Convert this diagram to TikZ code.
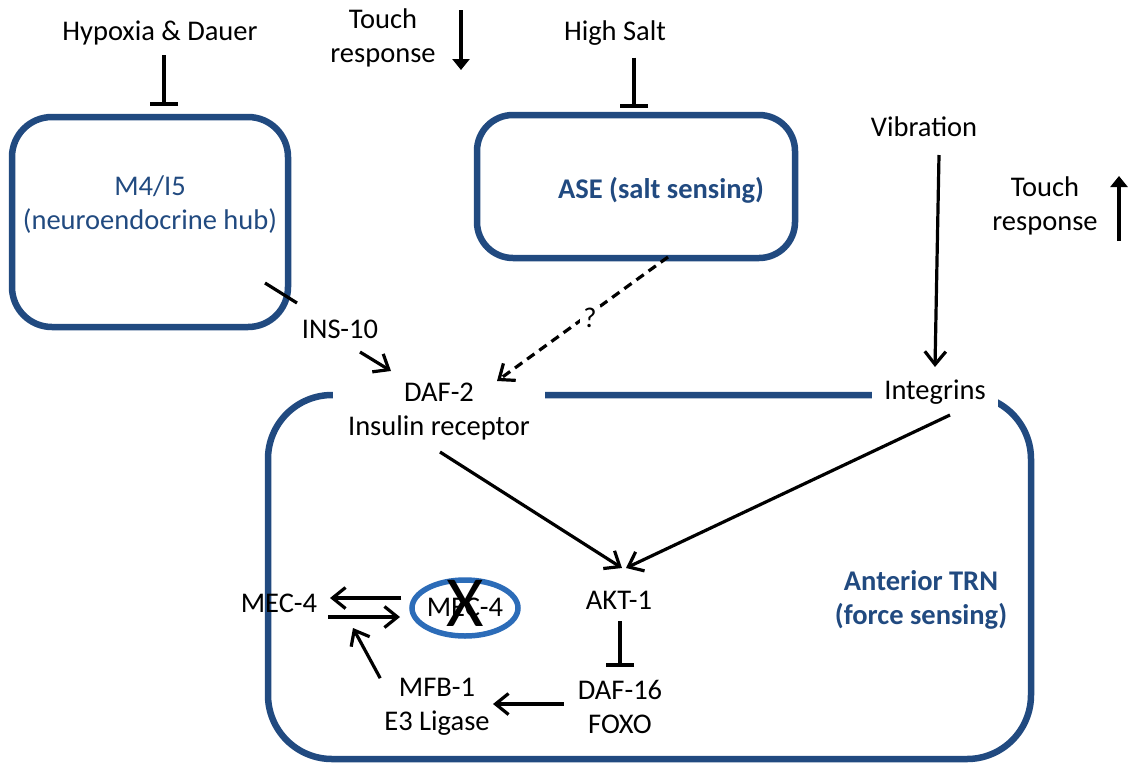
\documentclass[tikz,border=0pt]{standalone}
\usepackage{fontspec}
\setmainfont{Carlito}
\usetikzlibrary{arrows.meta,shapes.geometric}
\definecolor{boxblue}{RGB}{33,74,128}
\definecolor{ringblue}{RGB}{44,108,184}

\begin{document}
\begin{tikzpicture}[x=1pt,y=-1pt,
  txt/.style={font=\fontsize{28.5}{34}\selectfont, align=center, inner sep=0pt},
  bluetxt/.style={txt, text=boxblue},
  boldblue/.style={txt, text=boxblue, font=\fontsize{28.5}{34}\selectfont\bfseries},
  cellbox/.style={draw=boxblue, line width=6.5pt},
  act/.style={line width=3.2pt, -{Straight Barb[length=13pt,width=21pt,line width=3.2pt]}},
  dashact/.style={act, dash pattern=on 9pt off 6pt},
  inh/.style={line width=3.2pt, -{Bar[width=28pt,line width=4pt]}},
  plainline/.style={line width=3.2pt},
  bigarrow/.style={line width=4.2pt, -{Triangle[length=11pt,width=17pt]}}
]
\useasboundingbox (0,0) rectangle (1133,764);

% cell outlines
\draw[cellbox, rounded corners=40pt] (12,117) rectangle (288,327) ;
\node[bluetxt] (m4) at (150,205) {M4/I5\\(neuroendocrine hub)};
\draw[cellbox, rounded corners=36pt] (477,115) rectangle (795,258);
\node[boldblue] (ase) at (661,190) {ASE (salt sensing)};
\draw[cellbox, rounded corners=64pt] (268,395) rectangle (1031,759);

% outside cues
\node[txt] (hyp) at (160,33) {Hypoxia \& Dauer};
\node[txt] (touchdown) at (383,38) {Touch\\response};
\coordinate (tdtop) at (461,10);
\coordinate (tdtip) at (461,70);
\draw[bigarrow] (tdtop) -- (tdtip);
\node[txt] (salt) at (615,33) {High Salt};
\node[txt] (vib) at (924,127) {Vibration};
\node[txt] (touchup) at (1045,206) {Touch\\response};
\coordinate (tubot) at (1119,241);
\coordinate (tutip) at (1119,176);
\draw[bigarrow] (tubot) -- (tutip);

% inhibition onto the sensory cells
\coordinate (hypbar) at (164,106);
\draw[inh] (hyp.south -| hypbar) ++(0,10) -- (hypbar);
\coordinate (saltbar) at (634,108);
\draw[inh] (salt.south -| saltbar) ++(0,12) -- (saltbar);

% receptor level (white fills open gaps in the cell outline)
\node[txt] (ins) at (340,329) {INS-10};
\node[txt, fill=white, inner xsep=0pt, inner ysep=6pt, minimum width=212pt] (daf2) at (439,412) {DAF-2\\Insulin receptor};
\node[txt, fill=white, inner ysep=6pt, minimum width=126pt] (integ) at (935,392) {Integrins};

\coordinate (m4out) at (265,283);
\coordinate (m4tick) at (297,303);
\draw[plainline] (m4out) -- (m4tick);
\coordinate (insA) at (360,352);
\coordinate (insB) at (391,371);
\draw[act] (insA) -- (insB);
\coordinate (aseout) at (668,257);
\coordinate (dafin) at (497,381);
\draw[dashact] (aseout) -- (dafin);
\node[txt, fill=white, inner sep=3pt] (q) at (590,318) {?};
\coordinate (vibA) at (939,155);
\coordinate (vibB) at (935,367);
\draw[act] (vibA) -- (vibB);

% signalling inside the touch receptor neuron
\node[txt] (akt) at (619,600) {AKT-1};
\node[txt] (daf16) at (620,707) {DAF-16\\FOXO};
\node[txt] (mfb) at (437,707) {MFB-1\\E3 Ligase};
\node[txt] (mecL) at (279,603) {MEC-4};
\node[txt] (mecR) at (465,607) {MEC-4};
\node[draw=ringblue, line width=5.5pt, ellipse, minimum width=106pt, minimum height=56pt] (ring) at (465,608) {};
\node[font=\fontsize{72}{72}\selectfont, inner sep=0pt] (xmark) at (465,603) {X};
\node[boldblue] (trn) at (921,600) {Anterior TRN\\(force sensing)};

\coordinate (dafout) at (440,452);
\coordinate (aktin1) at (622,568);
\coordinate (intout) at (950,415);
\coordinate (aktin2) at (626,568);
\draw[act] (dafout) -- (aktin1);
\draw[act] (intout) -- (aktin2);
\coordinate (aktbar) at (620,667);
\draw[inh] (akt.south -| aktbar) ++(0,12) -- (aktbar);
\draw[act] (daf16.west |- 0,704) ++(-14,0) -- (493,704);
\draw[act] (mfb.north west) ++(-4,0) -- (353,628);
\draw[act] (ring.west |- 0,598) ++(-8,0) -- (330,598);
\draw[act] (mecL.east |- 0,617) ++(11,0) -- (400,617);
\end{tikzpicture}
\end{document}
